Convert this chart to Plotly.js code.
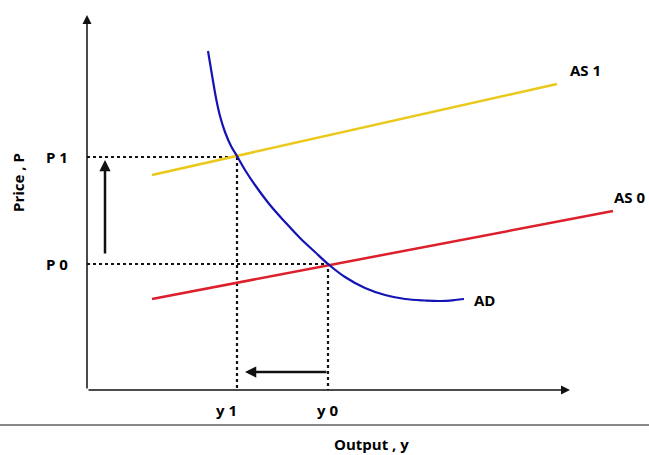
<!DOCTYPE html>
<html>
<head>
<meta charset="utf-8">
<script src="https://cdn.plot.ly/plotly-3.0.1.min.js"></script>
<style>html,body{margin:0;padding:0;background:#fff;}#chart{width:649px;height:455px;}</style>
</head>
<body>
<div id="chart"></div>
<script>
// Aggregate demand curve (output, price)
const adX = [12.1, 12.5, 12.9, 13.3, 13.8, 14.4, 15.0, 15.8, 16.8, 18.3, 19.8, 21.3, 22.8, 24.1, 25.8, 27.8, 29.8, 31.8, 33.8, 35.3, 36.8, 37.7];
const adY = [33.9, 31.5, 29.2, 27.4, 25.8, 24.4, 23.4, 22.0, 20.5, 18.5, 16.8, 15.2, 13.8, 12.6, 11.3, 10.2, 9.5, 9.1, 8.95, 8.9, 9.0, 9.1];
// Aggregate supply curves
const as0X = [6.5, 52.6];
const as0Y = [9.1, 17.9];
const as1X = [6.5, 47.0];
const as1Y = [21.5, 30.6];
// Equilibrium levels
const priceLevels = [12.6, 23.3];
const priceLabels = ['P 0', 'P 1'];
const outputLevels = [24.1, 15.0];
const outputLabels = ['y 0', 'y 1'];
const outputLabelX = [24.0, 13.9];
const curveLabels = ['AS 1', 'AS 0', 'AD'];
const axisMax = {x: 48.3, y: 37.5};

const FONT = '"Open Sans", sans-serif';
const traces = [];
for (let i = 0; i < priceLevels.length; i++) {
  traces.push({x: [0, outputLevels[i], outputLevels[i]], y: [priceLevels[i], priceLevels[i], 0],
    mode: 'lines', line: {color: '#111', width: 2.2, dash: 'dot'}, hoverinfo: 'skip'});
}
traces.push({x: as1X, y: as1Y, mode: 'lines', line: {color: '#EBC91A', width: 2.5}});
traces.push({x: as0X, y: as0Y, mode: 'lines', line: {color: '#DD1F2B', width: 2.5}});
traces.push({x: adX, y: adY, mode: 'lines', line: {color: '#1414B4', width: 2.2, shape: 'spline', smoothing: 1}});

function arrow(x0, y0, x1, y1, w, size) {
  return {x: x1, y: y1, ax: x0, ay: y0, xref: 'x', yref: 'y', axref: 'x', ayref: 'y',
    showarrow: true, arrowhead: 2, arrowsize: size, arrowwidth: w, arrowcolor: '#111', text: '', standoff: 0, startstandoff: 0};
}
function label(txt, x, y, extra) {
  return Object.assign({x: x, y: y, xref: 'x', yref: 'y', text: '<b>' + txt + '</b>', showarrow: false,
    font: {family: FONT, size: 15, color: '#000'}}, extra || {});
}
const ann = [
  arrow(0, 0, 0, axisMax.y, 1.5, 1.2),
  arrow(0, 0, axisMax.x, 0, 1.5, 1.2),
  arrow(1.8, 13.5, 1.8, 23.0, 2.5, 0.9),
  arrow(outputLevels[0], 1.8, 15.8, 1.8, 2.5, 0.9),
  label(curveLabels[0], 49.8, 32.0),
  label(curveLabels[1], 54.3, 19.3),
  label(curveLabels[2], 39.7, 9.0),
  label('Output , y', 28.4, -5.4),
  label('Price , P', -6.9, 20.7, {textangle: -90})
];
for (let i = 0; i < priceLevels.length; i++) {
  ann.push(label(priceLabels[i], -3.0, priceLevels[i]));
  ann.push(label(outputLabels[i], outputLabelX[i], -2.0));
}

const layout = {
  width: 649, height: 455, margin: {l: 0, r: 0, t: 0, b: 0},
  paper_bgcolor: '#fff', plot_bgcolor: '#fff', showlegend: false,
  xaxis: {range: [-8.7, 56.2], visible: false, showgrid: false, zeroline: false, fixedrange: true},
  yaxis: {range: [-6.5, 39.0], visible: false, showgrid: false, zeroline: false, fixedrange: true},
  annotations: ann,
  shapes: [{type: 'line', xref: 'paper', yref: 'y', x0: 0, x1: 1, y0: -3.5, y1: -3.5, line: {color: '#888', width: 2}}]
};
Plotly.newPlot('chart', traces, layout, {staticPlot: true, displayModeBar: false});
</script>
</body>
</html>
